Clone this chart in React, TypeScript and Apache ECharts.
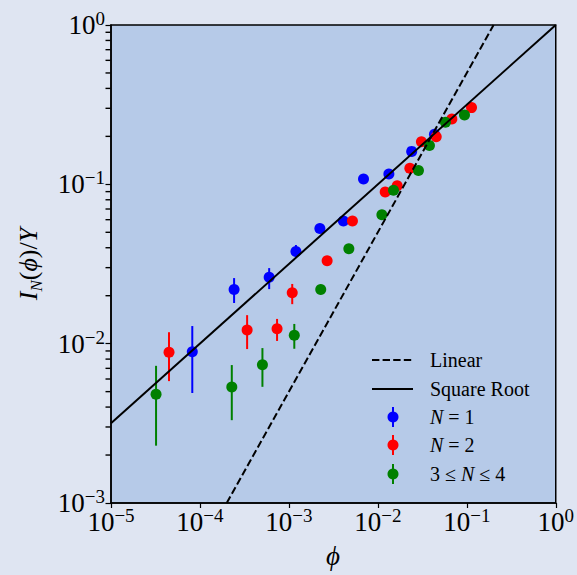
import React, { useEffect, useRef } from "react";
import * as echarts from "echarts";

// ---- data ----
const blueX = [8.2e-5, 2.42e-4, 6.0e-4, 1.2e-3, 2.23e-3, 4.1e-3, 6.9e-3, 1.33e-2, 2.4e-2, 4.33e-2];
const blueY = [8.9e-3, 2.19e-2, 2.61e-2, 3.79e-2, 5.29e-2, 5.88e-2, 0.108, 0.116, 0.161, 0.206];
const blueLo = [4.9e-3, 1.8e-2, 2.2e-2, 3.5e-2, 5.05e-2, 5.7e-2, 0.105, 0.113, 0.157, 0.201];
const blueHi = [1.29e-2, 2.58e-2, 2.98e-2, 4.16e-2, 5.5e-2, 6.05e-2, 0.111, 0.119, 0.165, 0.211];

const redX = [4.49e-5, 3.39e-4, 7.36e-4, 1.09e-3, 2.69e-3, 5.18e-3, 1.21e-2, 1.65e-2, 2.29e-2, 3.09e-2, 4.53e-2, 6.79e-2, 0.113];
const redY = [8.82e-3, 1.22e-2, 1.24e-2, 2.09e-2, 3.31e-2, 5.88e-2, 8.94e-2, 9.8e-2, 0.126, 0.185, 0.199, 0.257, 0.303];
const redLo = [5.82e-3, 9.25e-3, 1.04e-2, 1.77e-2, 3.1e-2, 5.7e-2, 8.7e-2, 9.55e-2, 0.123, 0.181, 0.195, 0.252, 0.298];
const redHi = [1.18e-2, 1.51e-2, 1.43e-2, 2.37e-2, 3.5e-2, 6.05e-2, 9.2e-2, 0.1005, 0.129, 0.189, 0.203, 0.262, 0.308];

const greenX = [3.21e-5, 2.28e-4, 5.04e-4, 1.15e-3, 2.28e-3, 4.72e-3, 1.11e-2, 1.5e-2, 2.86e-2, 3.8e-2, 5.75e-2, 9.42e-2];
const greenY = [4.81e-3, 5.34e-3, 7.37e-3, 1.13e-2, 2.19e-2, 3.94e-2, 6.45e-2, 9.17e-2, 0.122, 0.175, 0.245, 0.272];
const greenLo = [2.29e-3, 3.31e-3, 5.36e-3, 9.29e-3, 2.05e-2, 3.8e-2, 6.25e-2, 8.95e-2, 0.119, 0.171, 0.24, 0.267];
const greenHi = [7.26e-3, 7.34e-3, 9.38e-3, 1.33e-2, 2.33e-2, 4.1e-2, 6.65e-2, 9.4e-2, 0.125, 0.179, 0.25, 0.277];

// reference lines: Linear y = 5x, Square Root y = sqrt(x)
const linearCoef = 5;
const linearX = [2e-4, 0.2];
const sqrtX = [1e-5, 1];

const xMin = 1e-5, xMax = 1;
const yMin = 1e-3, yMax = 1;
const yMinorDecades = [-3, -2, -1];
const minorMult = [2, 3, 4, 5, 6, 7, 8, 9];

const FONT = "'Liberation Serif', 'DejaVu Serif', serif";
const BLUE = "#0000ff", RED = "#ff0000", GREEN = "#008000";

function expLabel(v: number) {
  const e = Math.round(Math.log10(v));
  return "10{sup|" + (e < 0 ? "\u2212" + -e : String(e)) + "}";
}

const tickRich = {
  sup: { fontSize: 19, fontFamily: FONT, color: "#000", verticalAlign: "top", lineHeight: 15 },
};

export default function App() {
  const ref = useRef<HTMLDivElement>(null);
  useEffect(() => {
    document.body.style.margin = "0";
    const chart = echarts.init(ref.current!, null, { renderer: "svg" });

    const errSeries = (xs: number[], ys: number[], lo: number[], hi: number[], color: string) => ({
      type: "custom",
      coordinateSystem: "cartesian2d",
      silent: true,
      data: xs.map((x, i) => [x, ys[i], lo[i], hi[i]]),
      encode: { x: 0, y: [1, 2, 3] },
      renderItem: (_p: any, api: any) => {
        const a = api.coord([api.value(0), api.value(2)]);
        const b = api.coord([api.value(0), api.value(3)]);
        return {
          type: "line",
          shape: { x1: a[0], y1: a[1], x2: b[0], y2: b[1] },
          style: { stroke: color, lineWidth: 2 },
        };
      },
    });
    const scatter = (xs: number[], ys: number[], color: string) => ({
      type: "scatter",
      silent: true,
      symbol: "circle",
      symbolSize: 11,
      itemStyle: { color, opacity: 1 },
      data: xs.map((x, i) => [x, ys[i]]),
    });

    const minorData: number[][] = [];
    yMinorDecades.forEach((d) => minorMult.forEach((m) => minorData.push([xMin, m * Math.pow(10, d)])));

    const legendX = 372, legendTextX = 430;
    const legendYs = [360, 389, 417, 445, 474];
    const legText = (y: number, text: string) => ({
      type: "text",
      x: legendTextX,
      y,
      z: 100,
      style: {
        text,
        font: "20px " + FONT,
        fill: "#000",
        verticalAlign: "middle",
        align: "left",
        rich: { i: { fontStyle: "italic", fontSize: 20, fontFamily: FONT } },
      },
    });
    const legMarker = (y: number, color: string) => [
      { type: "line", z: 100, shape: { x1: 393, y1: y - 10, x2: 393, y2: y + 10 }, style: { stroke: color, lineWidth: 2 } },
      { type: "circle", z: 100, shape: { cx: 393, cy: y, r: 5.5 }, style: { fill: color } },
    ];

    chart.setOption({
      animation: false,
      backgroundColor: "#dfe5f2",
      grid: {
        left: 111, right: 21, top: 25, bottom: 72,
        show: true, backgroundColor: "#b6cae8", borderColor: "#000", borderWidth: 1.5,
      },
      xAxis: {
        type: "log", logBase: 10, min: xMin, max: xMax, splitNumber: 5,
        axisLine: { show: true, lineStyle: { color: "#000", width: 1.5 } },
        axisTick: { show: true, inside: false, length: 5, lineStyle: { color: "#000", width: 1.2 } },
        splitLine: { show: false },
        minorTick: { show: false },
        axisLabel: {
          formatter: (v: number) => expLabel(v), margin: 3,
          fontSize: 27, fontFamily: FONT, color: "#000", lineHeight: 32, rich: tickRich,
        },
      },
      yAxis: {
        type: "log", logBase: 10, min: yMin, max: yMax, splitNumber: 3,
        axisLine: { show: true, lineStyle: { color: "#000", width: 1.5 } },
        axisTick: { show: true, inside: false, length: 5.5, lineStyle: { color: "#000", width: 1.2 } },
        splitLine: { show: false },
        minorTick: { show: false },
        axisLabel: {
          formatter: (v: number) => expLabel(v), margin: 6,
          fontSize: 27, fontFamily: FONT, color: "#000", lineHeight: 32, rich: tickRich,
        },
      },
      series: [
        {
          // minor ticks of the y axis (2..9 per decade), outside the plot
          type: "scatter", silent: true, clip: false, z: 10,
          symbol: "rect", symbolSize: [5, 1.4], symbolOffset: [-3, 0],
          itemStyle: { color: "#000", opacity: 1 },
          data: minorData,
        },
        {
          type: "line", silent: true, symbol: "none",
          lineStyle: { color: "#000", width: 2, type: [7.4, 3.2] },
          data: linearX.map((x) => [x, linearCoef * x]),
        },
        {
          type: "line", silent: true, symbol: "none",
          lineStyle: { color: "#000", width: 2 },
          data: sqrtX.map((x) => [x, Math.sqrt(x)]),
        },
        errSeries(blueX, blueY, blueLo, blueHi, BLUE),
        scatter(blueX, blueY, BLUE),
        errSeries(redX, redY, redLo, redHi, RED),
        scatter(redX, redY, RED),
        errSeries(greenX, greenY, greenLo, greenHi, GREEN),
        scatter(greenX, greenY, GREEN),
      ],
      graphic: [
        {
          type: "text", x: 333, y: 556,
          style: {
            text: "\u03D5", font: "italic 27px " + FONT, fill: "#000", align: "center", verticalAlign: "middle",
          },
        },
        {
          type: "text", x: 28, y: 264, rotation: Math.PI / 2,
          style: {
            text: "{i|I}{sub|N}({i|\u03D5})/{i|Y}",
            font: "26px " + FONT, fill: "#000", align: "center", verticalAlign: "middle", lineHeight: 34,
            rich: {
              i: { fontStyle: "italic", fontSize: 26, fontFamily: FONT, lineHeight: 34 },
              sub: { fontStyle: "italic", fontSize: 17, fontFamily: FONT, verticalAlign: "bottom", lineHeight: 16 },
            },
          },
        },
        { type: "line", z: 100, shape: { x1: legendX, y1: legendYs[0], x2: 413, y2: legendYs[0] }, style: { stroke: "#000", lineWidth: 2, lineDash: [7.4, 3.2] } },
        { type: "line", z: 100, shape: { x1: legendX, y1: legendYs[1], x2: 413, y2: legendYs[1] }, style: { stroke: "#000", lineWidth: 2 } },
        ...legMarker(legendYs[2], BLUE),
        ...legMarker(legendYs[3], RED),
        ...legMarker(legendYs[4], GREEN),
        legText(legendYs[0], "Linear"),
        legText(legendYs[1], "Square Root"),
        legText(legendYs[2], "{i|N} = 1"),
        legText(legendYs[3], "{i|N} = 2"),
        legText(legendYs[4], "3 \u2264 {i|N} \u2264 4"),
      ],
    });
    return () => chart.dispose();
  }, []);
  return <div ref={ref} style={{ width: 577, height: 575 }} />;
}
